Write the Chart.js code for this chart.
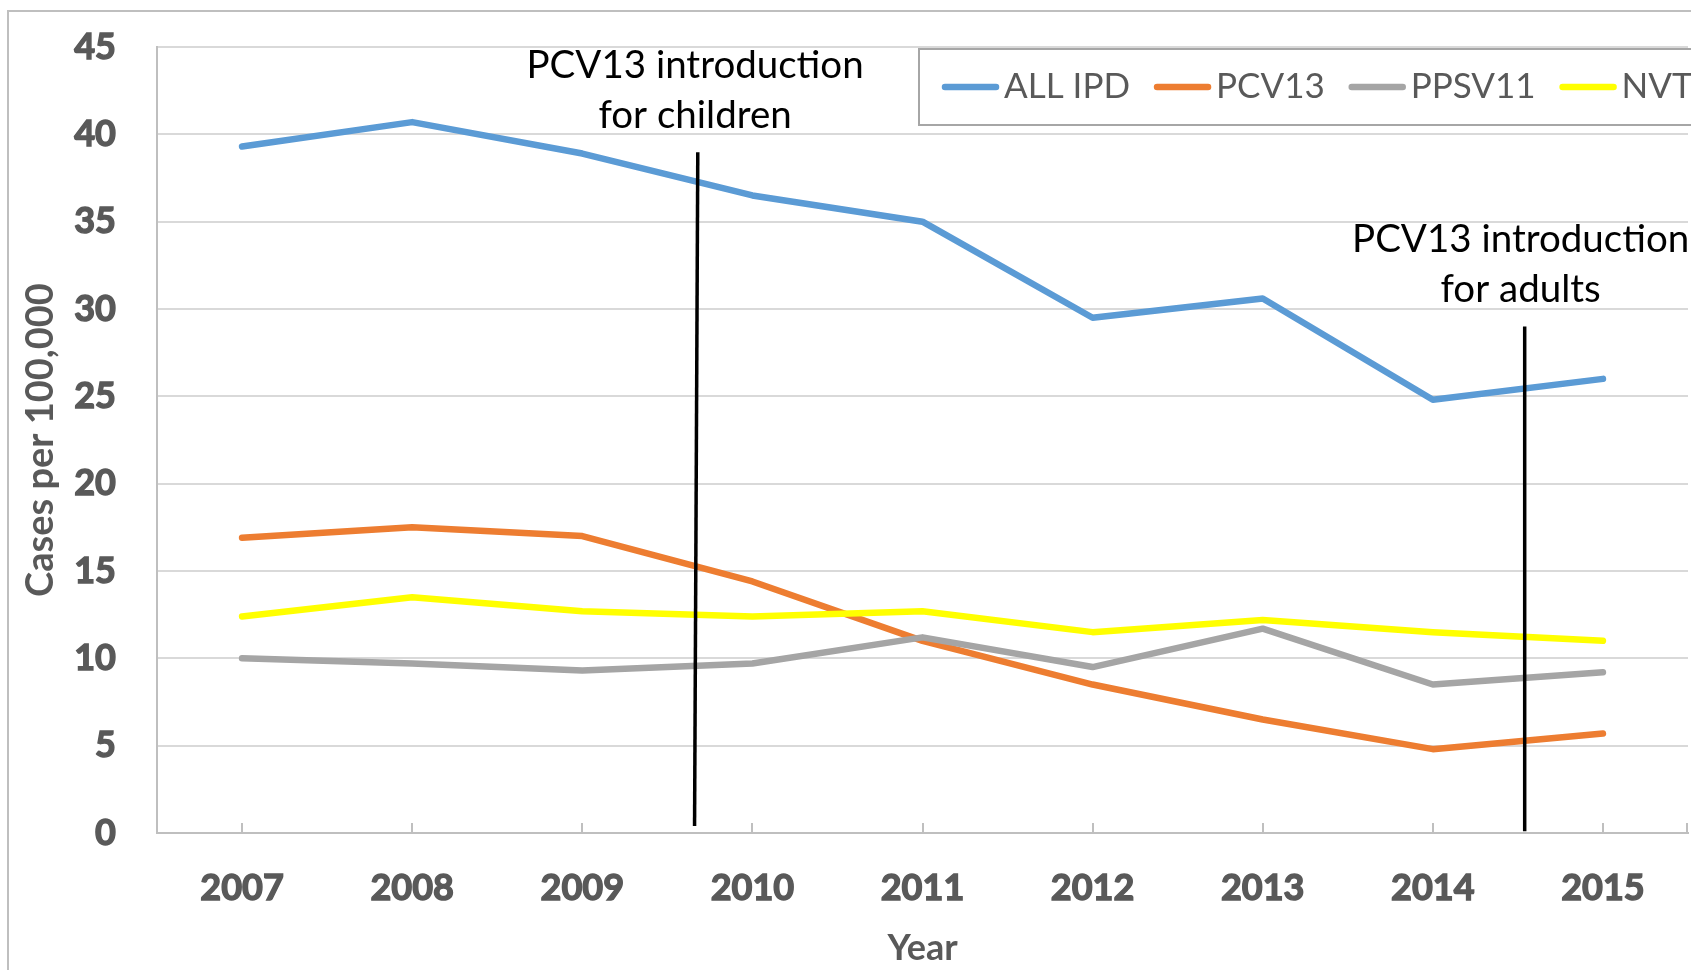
<!DOCTYPE html>
<html>
<head>
<meta charset="utf-8">
<script src="https://cdn.jsdelivr.net/npm/chart.js@4.4.0/dist/chart.umd.min.js"></script>
<style>
html,body{margin:0;padding:0;background:#fff;}
#wrap{width:1691px;height:970px;position:relative;}
</style>
</head>
<body>
<div id="wrap"><canvas id="c" width="1691" height="970"></canvas></div>
<script>
// ---- data ----
const years = ['2007','2008','2009','2010','2011','2012','2013','2014','2015'];
const allIPD = [39.3, 40.7, 38.9, 36.5, 35.0, 29.5, 30.6, 24.8, 26.0];
const pcv13  = [16.9, 17.5, 17.0, 14.4, 11.0, 8.5, 6.5, 4.8, 5.7];
const ppsv11 = [10.0, 9.7, 9.3, 9.7, 11.2, 9.5, 11.7, 8.5, 9.2];
const nvt    = [12.4, 13.5, 12.7, 12.4, 12.7, 11.5, 12.2, 11.5, 11.0];
const seriesNames = ['ALL IPD', 'PCV13', 'PPSV11', 'NVT'];
const seriesColors = ['#5B9BD5', '#ED7D31', '#A5A5A5', '#FFFF00'];
const yMin = 0, yMax = 45, yStep = 5;
const yTitle = 'Cases per 100,000';
const xTitle = 'Year';

// annotations: text lines, x position (category index), line extents (y values)
const annotations = [
  { lines: ['PCV13 introduction', 'for children'], xText: 2.663, yText: [43.2, 40.35],
    xTop: 2.679, xBottom: 2.660, yTop: 38.98, yBottom: 0.4 },
  { lines: ['PCV13 introduction', 'for adults'], xText: 7.516, yText: [33.26, 30.4],
    xTop: 7.54, xBottom: 7.54, yTop: 29.0, yBottom: 0.1 }
];

const GRAY_TEXT = '#595959';
const BOLD_W = 'bold';

const decor = {
  id: 'decor',
  beforeDraw(chart) {
    const ctx = chart.ctx;
    ctx.save();
    ctx.fillStyle = '#fff';
    ctx.fillRect(0, 0, chart.width, chart.height);
    ctx.strokeStyle = '#BFBFBF';
    ctx.lineWidth = 2;
    ctx.strokeRect(8, 11, chart.width + 40, chart.height + 40);
    ctx.restore();
  },
  afterDatasetsDraw(chart) {
    const ctx = chart.ctx;
    const xs = chart.scales.x, ys = chart.scales.y;
    const area = chart.chartArea;
    ctx.save();
    // upward tick marks on x axis
    ctx.strokeStyle = '#BFBFBF';
    ctx.lineWidth = 2;
    const tickXs = years.map((_, i) => xs.getPixelForValue(i));
    tickXs.push(area.right - 1);
    tickXs.forEach(px => {
      ctx.beginPath();
      ctx.moveTo(Math.round(px), area.bottom);
      ctx.lineTo(Math.round(px), area.bottom - 10);
      ctx.stroke();
    });
    // annotation lines and text
    annotations.forEach(a => {
      ctx.strokeStyle = '#000';
      ctx.lineWidth = 3.5;
      ctx.beginPath();
      ctx.moveTo(xs.getPixelForValue(a.xTop), ys.getPixelForValue(a.yTop));
      ctx.lineTo(xs.getPixelForValue(a.xBottom), ys.getPixelForValue(a.yBottom));
      ctx.stroke();
      ctx.fillStyle = '#000';
      ctx.font = '38.5px Lato';
      ctx.textAlign = 'center';
      ctx.textBaseline = 'alphabetic';
      a.lines.forEach((t, k) => {
        ctx.fillText(t, xs.getPixelForValue(a.xText), ys.getPixelForValue(a.yText[k]));
      });
    });
    // legend
    const boxX = 919, boxY = 49, boxH = 76;
    ctx.fillStyle = '#fff';
    ctx.fillRect(boxX, boxY, chart.width, boxH);
    ctx.strokeStyle = '#A6A6A6';
    ctx.lineWidth = 2;
    ctx.strokeRect(boxX, boxY, chart.width, boxH);
    ctx.font = '35px Lato';
    ctx.textAlign = 'left';
    ctx.textBaseline = 'alphabetic';
    let x = 942;
    chart.data.datasets.forEach(ds => {
      ctx.strokeStyle = ds.borderColor;
      ctx.lineWidth = 6.5;
      ctx.lineCap = 'round';
      ctx.beginPath();
      ctx.moveTo(x + 3, 87);
      ctx.lineTo(x + 54, 87);
      ctx.stroke();
      const tx = x + 62;
      const w = ctx.measureText(ds.label).width;
      ctx.fillStyle = GRAY_TEXT;
      ctx.fillText(ds.label, tx, 98);
      x = tx + w + 24;
    });
    ctx.restore();
  }
};

function build() {
  const seriesData = [allIPD, pcv13, ppsv11, nvt];
  const datasets = seriesNames.map((name, i) => ({
    label: name,
    data: seriesData[i],
    borderColor: seriesColors[i],
    backgroundColor: seriesColors[i],
    borderWidth: 6.5,
    pointRadius: 0,
    pointHoverRadius: 0,
    tension: 0,
    fill: false,
    borderCapStyle: 'round',
    borderJoinStyle: 'round',
    order: seriesNames.length - i
  }));
  new Chart(document.getElementById('c'), {
    type: 'line',
    data: { labels: years, datasets },
    options: {
      responsive: false,
      animation: false,
      devicePixelRatio: 1,
      layout: { padding: { top: 47, right: 3, bottom: 0, left: 0 } },
      plugins: { legend: { display: false }, tooltip: { enabled: false }, title: { display: false } },
      scales: {
        x: {
          offset: true,
          grid: { display: true, drawOnChartArea: false, drawTicks: false },
          border: { display: true, color: '#BFBFBF', width: 2 },
          ticks: { color: GRAY_TEXT, font: { family: 'Lato', size: 36, weight: BOLD_W }, padding: 34, maxRotation: 0, autoSkip: false,
                   textStrokeColor: GRAY_TEXT, textStrokeWidth: 1.4 },
          title: { display: true, text: xTitle, color: GRAY_TEXT, font: { family: 'Lato', size: 36, weight: BOLD_W }, padding: { top: 0, bottom: 0 } },
          afterFit(s) { s.height = 137; s.paddingLeft = 0; s.paddingRight = 0; }
        },
        y: {
          min: yMin, max: yMax,
          grid: { color: '#D9D9D9', lineWidth: 2, drawTicks: false },
          border: { display: true, color: '#BFBFBF', width: 2 },
          ticks: { stepSize: yStep, color: GRAY_TEXT, font: { family: 'Lato', size: 36, weight: BOLD_W }, padding: 41,
                   textStrokeColor: GRAY_TEXT, textStrokeWidth: 1.4 },
          title: { display: true, text: yTitle, color: GRAY_TEXT, font: { family: 'Lato', size: 38, weight: BOLD_W }, padding: { top: 18, bottom: 0 } },
          afterFit(s) { s.width = 157; s.paddingTop = 0; s.paddingBottom = 0; }
        }
      }
    },
    plugins: [decor]
  });
}

Promise.all([
  document.fonts.load('bold 36px Lato'),
  document.fonts.load('36px Lato')
]).then(build, build);
</script>
</body>
</html>
